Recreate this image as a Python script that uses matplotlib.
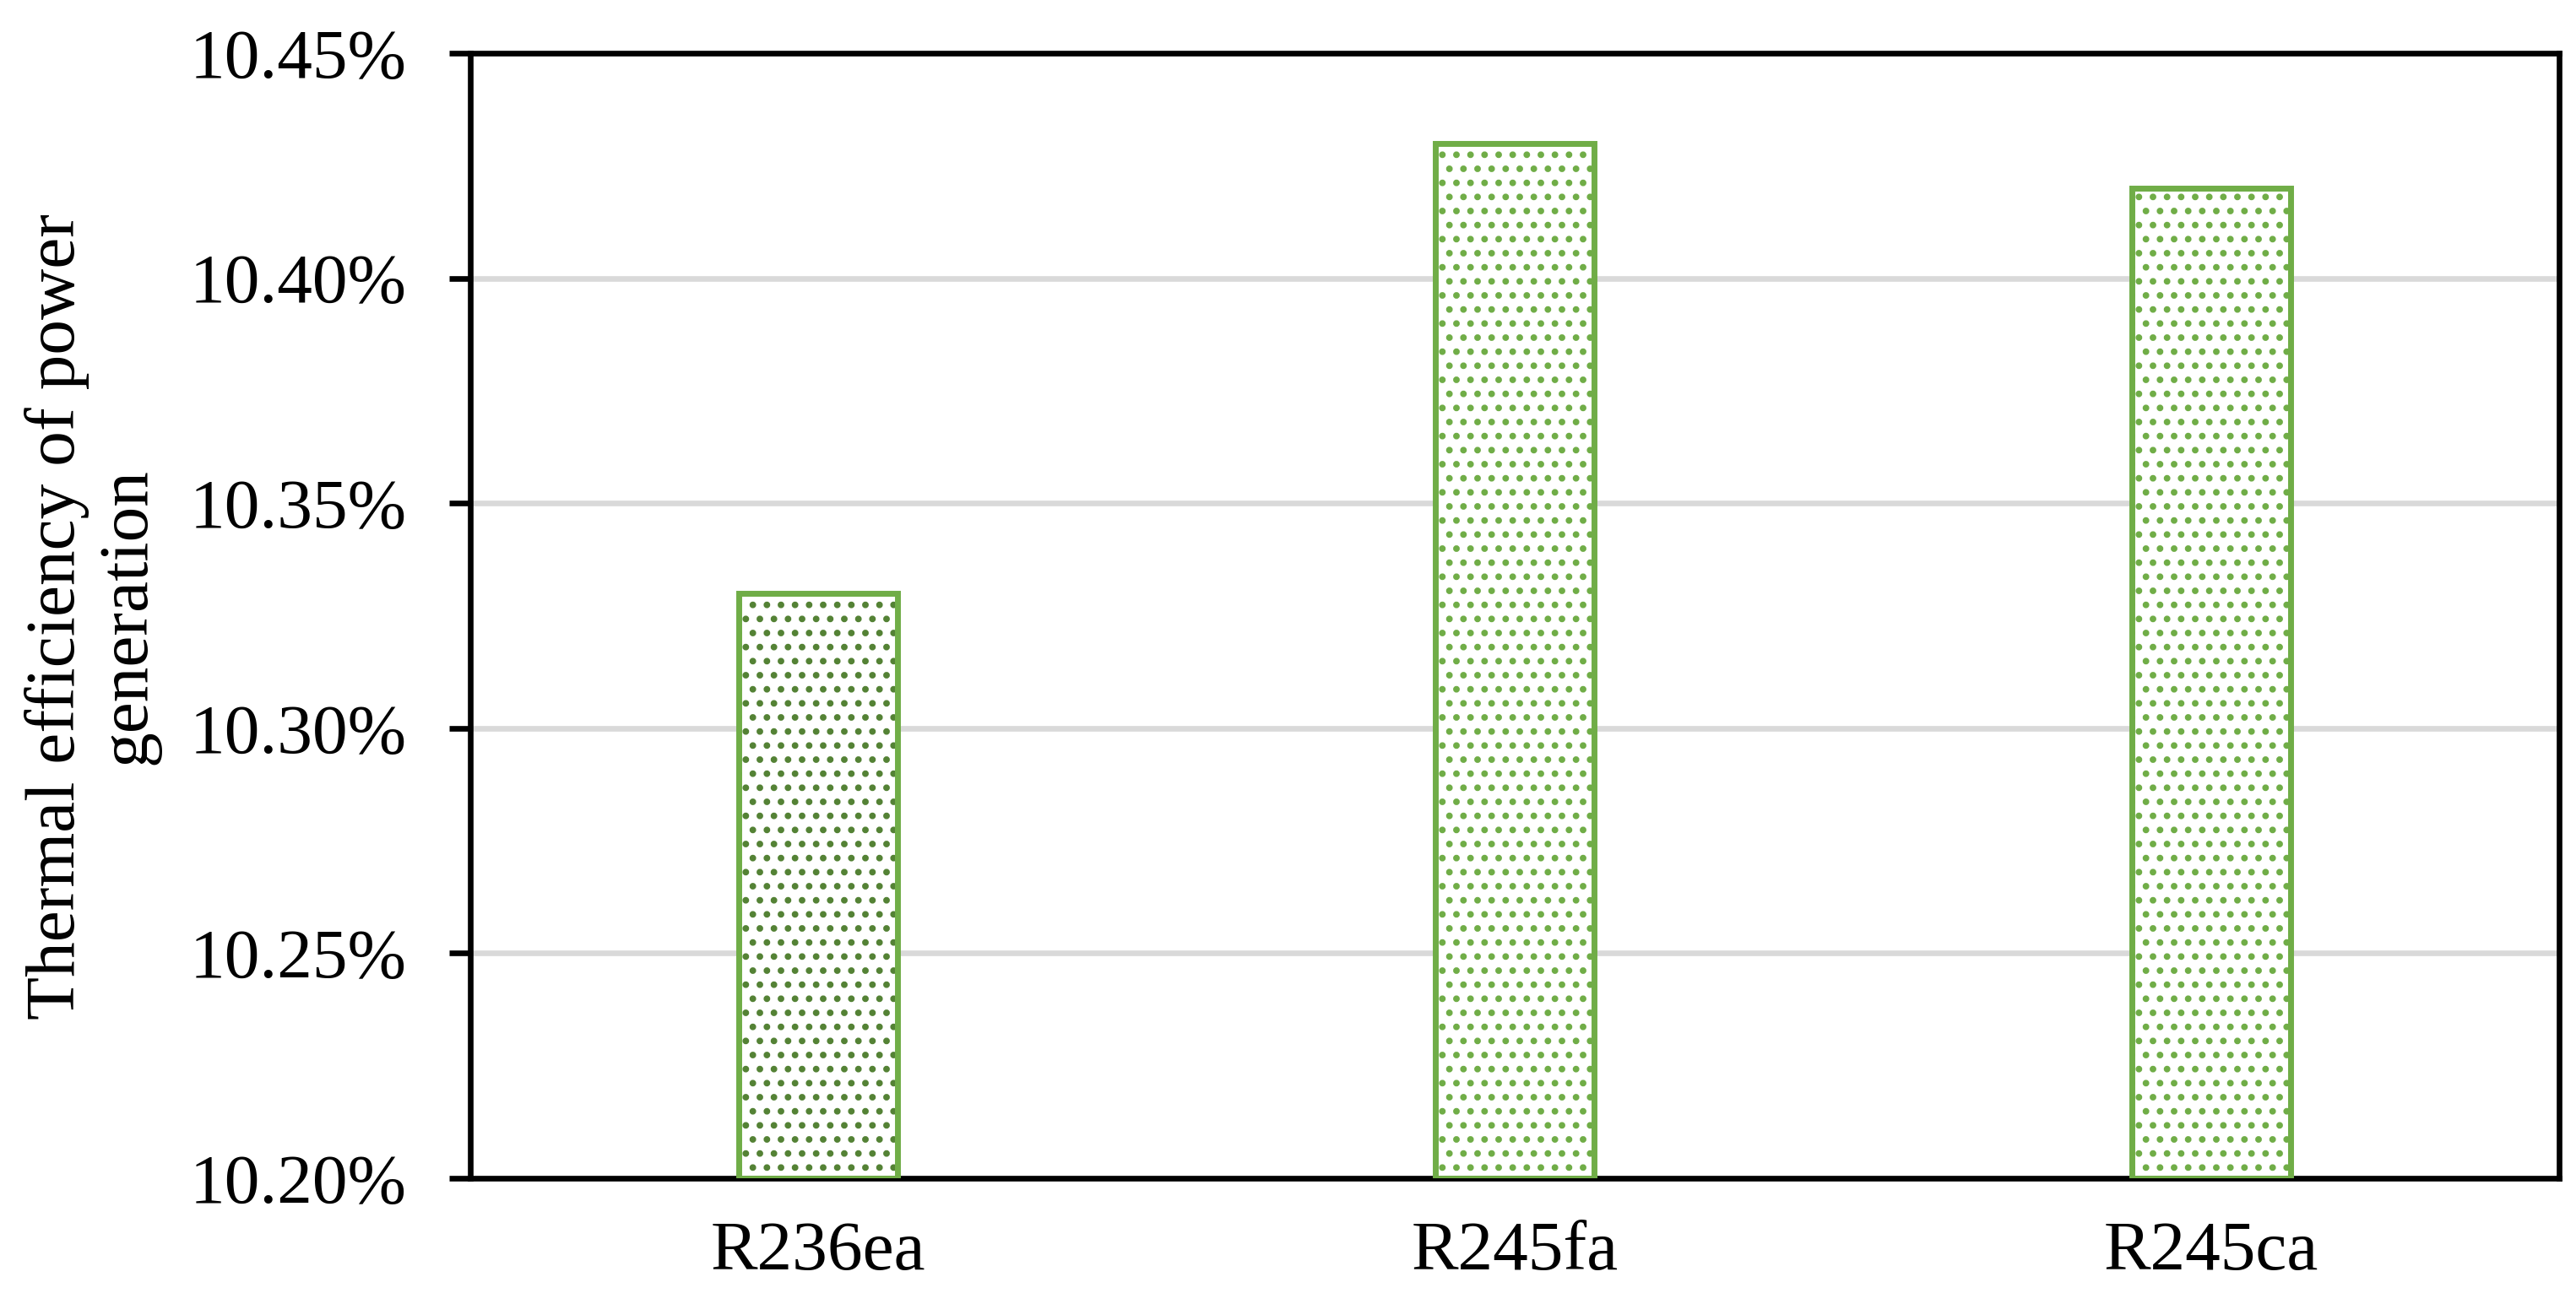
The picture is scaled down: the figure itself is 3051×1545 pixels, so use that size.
import matplotlib
matplotlib.use('Agg')
import matplotlib.pyplot as plt
import numpy as np
from matplotlib.ticker import FuncFormatter

plt.rcParams['font.family'] = ['Liberation Serif', 'DejaVu Serif']
plt.rcParams['hatch.linewidth'] = 1.6

# data (percent)
refrigerants = ['R236ea', 'R245fa', 'R245ca']
efficiency = [10.33, 10.43, 10.42]
y_ticks = [10.20, 10.25, 10.30, 10.35, 10.40, 10.45]

edge_color = '#70AD47'
dot_colors = ['#548235', '#70AD47', '#70AD47']

fig = plt.figure(figsize=(15.255, 7.725), dpi=200)
ax = fig.add_axes([0.1826, 0.0964, 0.8108, 0.8628])

x = np.arange(len(refrigerants))
width = 0.228

# dotted fill first, then the outline on top
for i in range(len(x)):
    ax.bar(x[i], efficiency[i] - y_ticks[0], width, bottom=y_ticks[0],
           facecolor='white', edgecolor=dot_colors[i], linewidth=0,
           hatch='..', zorder=2)
ax.bar(x, np.array(efficiency) - y_ticks[0], width, bottom=y_ticks[0],
       fill=False, edgecolor=edge_color, linewidth=2.5, zorder=3)

ax.set_xlim(-0.5, len(x) - 0.5)
ax.set_ylim(y_ticks[0], y_ticks[-1])
ax.set_yticks(y_ticks)
ax.yaxis.set_major_formatter(FuncFormatter(lambda v, p: '%.2f%%' % v))
ax.set_xticks(x)
ax.set_xticklabels(refrigerants)

ax.set_axisbelow(True)
ax.yaxis.grid(True, color='#D9D9D9', linewidth=2.4)

for s in ax.spines.values():
    s.set_linewidth(2.4)
    s.set_color('black')

ax.tick_params(axis='y', direction='out', length=9, width=2.4,
               pad=18, labelsize=30)
ax.tick_params(axis='x', length=0, pad=18, labelsize=30)

fig.text(109 / 3051, 1 - 730 / 1545, 'Thermal efficiency of power\ngeneration',
         rotation=90, ha='center', va='center', fontsize=30,
         linespacing=1.13, multialignment='center')

fig.savefig('out.png', dpi=200)
